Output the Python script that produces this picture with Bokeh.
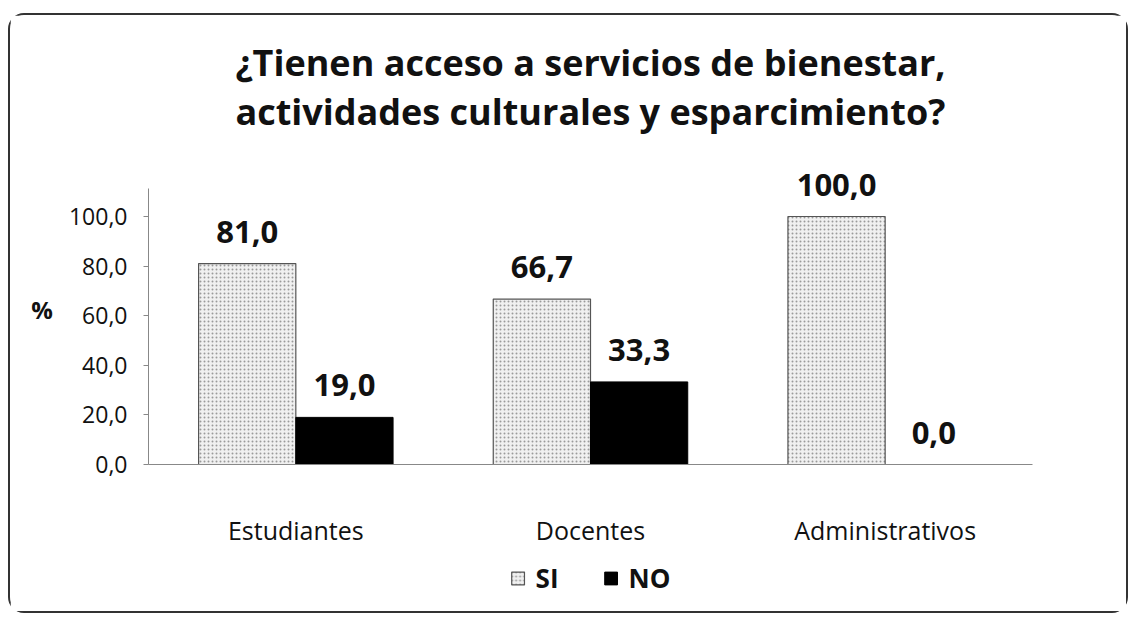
from bokeh.plotting import figure
from bokeh.layouts import column
from bokeh.models import (ColumnDataSource, FactorRange, Range1d, FixedTicker, CustomJSTickFormatter,
                          LabelSet, Legend, LegendItem)
from bokeh.core.properties import value
from bokeh.transform import dodge
from bokeh.embed import file_html
from bokeh.resources import INLINE

categories = ["Estudiantes", "Docentes", "Administrativos"]
si_values = [81.0, 66.7, 100.0]
no_values = [19.0, 33.3, 0.0]
series_names = ["SI", "NO"]
y_ticks = [0, 20, 40, 60, 80, 100]
title_lines = ["¿Tienen acceso a servicios de bienestar,", "actividades culturales y esparcimiento?"]

FONT = "Open Sans"
TXT = "#111111"
SI_FILL = "#f0f0f0"
SI_LINE = "#555555"
HATCH = "#9a9a9a"

def fmt(v):
    return f"{v:.1f}".replace(".", ",")

src = ColumnDataSource(dict(
    cat=categories,
    si=si_values,
    no=no_values,
    si_lbl=[fmt(v) for v in si_values],
    no_lbl=[fmt(v) for v in no_values],
))

p = figure(x_range=FactorRange(*categories, range_padding=0), y_range=Range1d(0, 125),
           width=1116, height=540, output_backend="svg", toolbar_location=None,
           min_border_left=138, min_border_right=94, min_border_top=139, min_border_bottom=91)
p.title.text = "\n".join(title_lines)
p.title.align = "center"
p.title.text_font = FONT
p.title.text_font_size = "36px"
p.title.text_font_style = "bold"
p.title.text_color = TXT
p.title.text_line_height = 1.0
p.title.standoff = 38

bw = 0.33
r_si = p.vbar(x=dodge("cat", -bw / 2, range=p.x_range), top="si", width=bw, source=src,
              fill_color=SI_FILL, line_color=SI_LINE, line_width=1.2,
              hatch_pattern="dot", hatch_color=HATCH, hatch_scale=4, hatch_weight=1)
r_no = p.vbar(x=dodge("cat", bw / 2, range=p.x_range), top="no", width=bw, source=src,
              fill_color="#000000", line_color="#000000")

for col, off in (("si", -bw / 2), ("no", bw / 2)):
    p.add_layout(LabelSet(x=dodge("cat", off, range=p.x_range), y=col, text=col + "_lbl", source=src,
                          text_align="center", text_baseline="alphabetic", y_offset=21,
                          text_font=value(FONT), text_font_size=value("31px"),
                          text_font_style=value("bold"), text_color=value(TXT)))

p.xgrid.visible = False
p.ygrid.visible = False
p.outline_line_color = None

p.yaxis.ticker = FixedTicker(ticks=y_ticks)
p.yaxis.bounds = (0, 111.3)
p.yaxis.formatter = CustomJSTickFormatter(code="return tick.toFixed(1).replace('.', ',');")
p.yaxis.major_label_text_font = FONT
p.yaxis.major_label_text_font_size = "23px"
p.yaxis.major_label_text_color = TXT
p.yaxis.minor_tick_line_color = None
p.yaxis.major_tick_out = 5
p.yaxis.major_tick_in = 0
p.yaxis.major_label_standoff = 16
p.yaxis.axis_line_color = "#888888"
p.yaxis.major_tick_line_color = "#888888"
p.yaxis.axis_label = "%"
p.yaxis.axis_label_orientation = "horizontal"
p.yaxis.axis_label_text_font = FONT
p.yaxis.axis_label_text_font_size = "24px"
p.yaxis.axis_label_text_font_style = "bold"
p.yaxis.axis_label_text_color = TXT
p.yaxis.axis_label_text_baseline = "bottom"
p.yaxis.axis_label_standoff = 13

p.xaxis.major_label_text_font = FONT
p.xaxis.major_label_text_font_size = "25px"
p.xaxis.major_label_text_color = TXT
p.xaxis.major_tick_line_color = None
p.xaxis.axis_line_color = "#888888"
p.xaxis.major_label_standoff = 42

# legend strip (zero-size stand-in glyphs give the legend its swatches)
lf = figure(width=1116, height=56, output_backend="svg", toolbar_location=None,
            x_range=Range1d(0, 1), y_range=Range1d(0, 1),
            x_axis_location=None, y_axis_location=None,
            min_border_left=44, min_border_right=0, min_border_top=0, min_border_bottom=10)
lf.grid.visible = False
lf.outline_line_color = None
dummy = ColumnDataSource(dict(x=[0.02], top=[0.5], bottom=[0.5]))
d_si = lf.vbar(x="x", top="top", bottom="bottom", width=0, source=dummy,
               fill_color=SI_FILL, line_color=SI_LINE, line_width=1.2,
               hatch_pattern="dot", hatch_color=HATCH, hatch_scale=4, hatch_weight=1)
d_no = lf.vbar(x="x", top="top", bottom="bottom", width=0, source=dummy,
               fill_color="#000000", line_color="#000000")
legend = Legend(items=[LegendItem(label=series_names[0], renderers=[d_si]),
                       LegendItem(label=series_names[1], renderers=[d_no])],
                orientation="horizontal", location="center",
                label_text_font=FONT, label_text_font_size="26px", label_text_font_style="bold",
                label_text_color=TXT, glyph_width=16, glyph_height=16, spacing=44,
                label_standoff=10, border_line_color=None, background_fill_alpha=0,
                margin=0, padding=4)
lf.add_layout(legend, "center")

layout = column(p, lf, spacing=0)
layout.styles = {"border": "2px solid #333333", "border-radius": "16px",
                 "margin-left": "8px", "margin-top": "13px"}

open("out.html", "w").write(file_html(layout, INLINE))
